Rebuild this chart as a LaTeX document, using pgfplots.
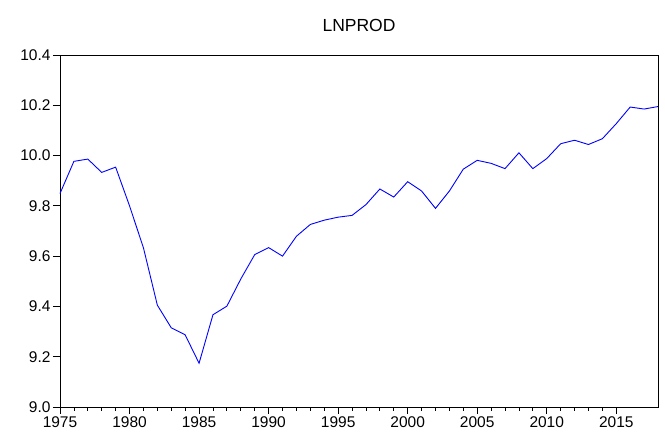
\documentclass[border=0pt]{standalone}
\usepackage{pgfplots}
\pgfplotsset{compat=1.18}
\usepackage{fontspec}
\setmainfont{Liberation Sans}
\begin{document}
\begin{tikzpicture}[x=1pt,y=1pt]
\path[use as bounding box] (0,0) rectangle (665,435);
\begin{axis}[
  at={(60pt,28pt)}, anchor=south west,
  scale only axis, width=598pt, height=352pt,
  xmin=1975, xmax=2018, ymin=9.0, ymax=10.4,
  xtick={1975,1980,...,2015}, minor x tick num=4,
  ytick={9.0,9.2,...,10.41},
  tick align=outside, xtick pos=bottom, ytick pos=left,
  major tick length=7pt, minor tick length=4pt,
  tick style={black, line width=0.8pt},
  axis line style={black, line width=0.9pt},
  x tick label style={/pgf/number format/1000 sep=, font=\fontsize{15.5}{18}\selectfont, yshift=1pt},
  y tick label style={/pgf/number format/.cd, fixed, fixed zerofill, precision=1, /tikz/.cd, font=\fontsize{15.5}{18}\selectfont, xshift=1pt},
  /pgf/number format/assume math mode=true,
  title={LNPROD}, title style={font=\fontsize{17.5}{20}\selectfont, yshift=14pt},
  clip=false,
]
\addplot[blue, line width=0.9pt, mark=none] coordinates {
(1975,9.849) (1976,9.977) (1977,9.986) (1978,9.933) (1979,9.954)
(1980,9.800) (1981,9.633) (1982,9.405) (1983,9.315) (1984,9.287)
(1985,9.174) (1986,9.367) (1987,9.401) (1988,9.509) (1989,9.606)
(1990,9.634) (1991,9.600) (1992,9.679) (1993,9.726) (1994,9.743)
(1995,9.755) (1996,9.762) (1997,9.805) (1998,9.867) (1999,9.835)
(2000,9.896) (2001,9.859) (2002,9.790) (2003,9.859) (2004,9.946)
(2005,9.981) (2006,9.969) (2007,9.948) (2008,10.011) (2009,9.948)
(2010,9.988) (2011,10.047) (2012,10.061) (2013,10.044) (2014,10.067)
(2015,10.127) (2016,10.193) (2017,10.185) (2018,10.195)
};
\end{axis}
\end{tikzpicture}
\end{document}
